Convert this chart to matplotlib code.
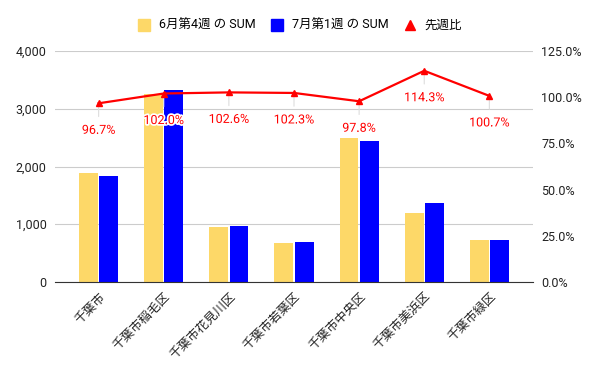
import matplotlib
matplotlib.use("Agg")
import matplotlib.pyplot as plt
from matplotlib.lines import Line2D
from matplotlib.ticker import FuncFormatter
import matplotlib.patheffects as pe
import numpy as np

plt.rcParams['font.family'] = ['Roboto', 'Noto Sans CJK JP', 'DejaVu Sans']

categories = ['千葉市', '千葉市稲毛区', '千葉市花見川区', '千葉市若葉区', '千葉市中央区', '千葉市美浜区', '千葉市緑区']
june_w4 = [1890, 3250, 950, 678, 2490, 1195, 722]
july_w1 = [1837, 3320, 972, 693, 2440, 1363, 727]
ratio_pct = [96.7, 102.0, 102.6, 102.3, 97.8, 114.3, 100.7]
series_names = ['6月第4週 の SUM', '7月第1週 の SUM', '先週比']

YELLOW = '#FDD868'
BLUE = '#0000FF'
RED = '#FF0000'

fig = plt.figure(figsize=(6, 3.71), dpi=100)
ax = fig.add_axes([55/600, 1-282/371, (533-55)/600, (282-51)/371])
ax2 = ax.twinx()

x = np.arange(len(categories))
w = 0.29
ax.bar(x - 0.155, june_w4, width=w, color=YELLOW, zorder=2)
ax.bar(x + 0.155, july_w1, width=w, color=BLUE, zorder=2)

ax.set_ylim(0, 4000)
ax.set_yticks([0, 1000, 2000, 3000, 4000])
ax.yaxis.set_major_formatter(FuncFormatter(lambda v, p: f'{int(v):,}'))
ax.set_xlim(-0.67, len(categories) - 1 + 0.67)
ax.set_xticks(x)
ax.set_xticklabels(categories, rotation=45, ha='right', rotation_mode='anchor', fontsize=9, color='#222222')
ax.grid(axis='y', color='#cccccc', linewidth=0.8, zorder=0)
ax.set_axisbelow(True)
for s in ['top', 'left', 'right']:
    ax.spines[s].set_visible(False)
ax.spines['bottom'].set_color('#333333')
ax.tick_params(axis='x', length=0, pad=6)
ax.tick_params(axis='y', length=0, pad=6, labelsize=9, labelcolor='#222222')

ax2.set_ylim(0, 125)
ax2.set_yticks([0, 25, 50, 75, 100, 125])
ax2.yaxis.set_major_formatter(FuncFormatter(lambda v, p: f'{v:.1f}%'))
for s in ['top', 'left', 'right', 'bottom']:
    ax2.spines[s].set_visible(False)
ax2.tick_params(axis='y', length=0, pad=6, labelsize=9, labelcolor='#222222')

ax2.plot(x, ratio_pct, color=RED, linewidth=1.6, marker='^', markersize=5, zorder=4)
for xi, r in zip(x, ratio_pct):
    ax2.annotate('', xy=(xi, r), xytext=(0, -16), textcoords='offset pixels',
                 arrowprops=dict(arrowstyle='-', color='#dddddd', lw=0.8), zorder=3)
    ax2.annotate(f'{r:.1f}%', xy=(xi, r), xytext=(0, -27), textcoords='offset pixels',
                 ha='center', va='center', color=RED, fontsize=9, zorder=5,
                 path_effects=[pe.withStroke(linewidth=2.5, foreground='white')])

handles = [
    Line2D([], [], marker='s', linestyle='none', color=YELLOW, markersize=9),
    Line2D([], [], marker='s', linestyle='none', color=BLUE, markersize=9),
    Line2D([], [], marker='^', linestyle='none', color=RED, markersize=7),
]
fig.legend(handles, series_names, loc='center', bbox_to_anchor=(0.5, 1-25.5/371), ncol=3,
           frameon=False, fontsize=9, handletextpad=0.7, columnspacing=1.2, handlelength=1.0)

fig.savefig('out.png', dpi=100)
